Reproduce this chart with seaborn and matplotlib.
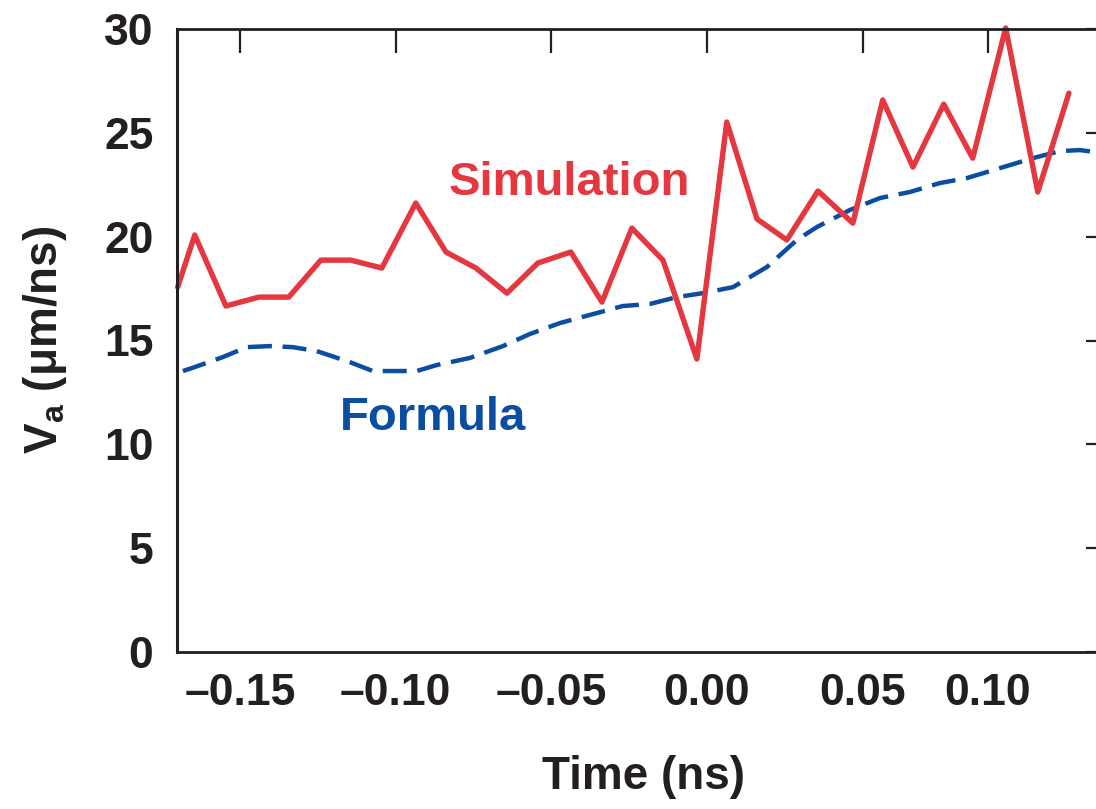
import matplotlib
matplotlib.use("Agg")
import matplotlib.pyplot as plt
import seaborn as sns
import pandas as pd

# ---- data ----
sim_time = [-0.1700, -0.1645, -0.1545, -0.1439, -0.1343, -0.1240, -0.1144, -0.1044,
            -0.0935, -0.0838, -0.0742, -0.0642, -0.0543, -0.0437, -0.0337, -0.0241,
            -0.0141, -0.0032, 0.0064, 0.0161, 0.0257, 0.0357, 0.0469, 0.0565,
            0.0662, 0.0761, 0.0854, 0.0960, 0.1063, 0.1163]
sim_va = [17.57, 20.08, 16.66, 17.09, 17.09, 18.87, 18.87, 18.49,
          21.62, 19.26, 18.49, 17.28, 18.73, 19.26, 16.85, 20.41,
          18.87, 14.11, 25.52, 20.85, 19.84, 22.20, 20.65, 26.58,
          23.35, 26.38, 23.78, 30.05, 22.15, 26.91]

form_time = [-0.1683, -0.1645, -0.1555, -0.1478, -0.1404, -0.1330, -0.1253, -0.1147,
             -0.1073, -0.1002, -0.0932, -0.0867, -0.0761, -0.0655, -0.0569, -0.0472,
             -0.0376, -0.0270, -0.0183, -0.0096, -0.0013, 0.0084, 0.0193, 0.0289,
             0.0353, 0.0459, 0.0556, 0.0652, 0.0748, 0.0835, 0.0941, 0.1047,
             0.1134, 0.1198, 0.1250, 0.1300]
form_va = [13.53, 13.72, 14.20, 14.68, 14.73, 14.68, 14.49, 13.96,
           13.53, 13.53, 13.53, 13.82, 14.16, 14.73, 15.31, 15.84,
           16.23, 16.66, 16.76, 17.09, 17.28, 17.57, 18.54, 19.84,
           20.46, 21.28, 21.86, 22.15, 22.58, 22.82, 23.30, 23.78,
           24.12, 24.17, 24.07, 24.00]

x_tick_pos = [-0.15, -0.10, -0.05, 0.00, 0.05, 0.0903]
x_tick_labels = ["\u20130.15", "\u20130.10", "\u20130.05", "0.00", "0.05", "0.10"]
y_tick_pos = [0, 5, 10, 15, 20, 25, 30]
y_tick_labels = ["0", "5", "10", "15", "20", "25", "30"]

sim_df = pd.DataFrame({"time": sim_time, "va": sim_va})
form_df = pd.DataFrame({"time": form_time, "va": form_va})

RED = "#E4373F"
BLUE = "#0B4DA2"
DARK = "#231F20"

sns.set_theme(style="white")
plt.rcParams["font.family"] = ["Liberation Sans", "DejaVu Sans"]
plt.rcParams["font.weight"] = "bold"
plt.rcParams["mathtext.fontset"] = "custom"
plt.rcParams["mathtext.rm"] = "Liberation Sans:bold"
plt.rcParams["mathtext.bf"] = "Liberation Sans:bold"
plt.rcParams["mathtext.it"] = "Liberation Sans:bold"

fig = plt.figure(figsize=(10.96, 8.09), dpi=100)
W, H = 1096, 809
left_px, right_px, top_px, bottom_px = 177, 1110, 29, 652
ax = fig.add_axes([left_px / W, (H - bottom_px) / H,
                   (right_px - left_px) / W, (bottom_px - top_px) / H])

sns.lineplot(data=form_df, x="time", y="va", ax=ax, color=BLUE, linewidth=3.2,
             linestyle=(0, (5.4, 2.4)), estimator=None, sort=False, clip_on=False)
sns.lineplot(data=sim_df, x="time", y="va", ax=ax, color=RED, linewidth=3.9,
             estimator=None, sort=False, clip_on=False)

ax.set_xlim(-0.1702, 0.1295)
ax.set_ylim(0, 30)

ax.set_xticks(x_tick_pos)
ax.set_xticklabels(x_tick_labels)
ax.set_yticks(y_tick_pos)
ax.set_yticklabels(y_tick_labels)

ax.tick_params(axis="both", which="major", direction="in", length=17.5, width=1.6,
               color=DARK, labelcolor=DARK, top=True, right=True)
ax.tick_params(axis="x", labelsize=32, pad=15)
ax.tick_params(axis="y", labelsize=32, pad=17)
for lab in ax.get_xticklabels() + ax.get_yticklabels():
    lab.set_fontweight("bold")

for side in ["left", "bottom", "top"]:
    ax.spines[side].set_visible(True)
    ax.spines[side].set_color(DARK)
    ax.spines[side].set_linewidth(2.0)
ax.spines["left"].set_linewidth(2.2)
ax.spines["right"].set_visible(False)

ax.set_xlabel("Time (ns)", fontsize=33, fontweight="bold", color=DARK)
ax.xaxis.set_label_coords((644 - left_px) / (right_px - left_px),
                          (bottom_px - 755) / (bottom_px - top_px))
ax.set_ylabel("V$_{\\mathbf{a}}$ (\u03bcm/ns)",
              fontsize=33, fontweight="bold", color=DARK)
ax.yaxis.set_label_coords((69 - left_px) / (right_px - left_px),
                          (bottom_px - 340) / (bottom_px - top_px))

# in-plot labels
def px_to_data(px, py):
    disp = fig.transFigure.transform((px / W, (H - py) / H))
    return ax.transData.inverted().transform(disp)

sx, sy = px_to_data(569, 195)
ax.text(sx, sy, "Simulation", color=RED, fontsize=34, fontweight="bold",
        ha="center", va="baseline")
fx, fy = px_to_data(433, 430)
ax.text(fx, fy, "Formula", color=BLUE, fontsize=34, fontweight="bold",
        ha="center", va="baseline")

fig.savefig("out.png", dpi=100)
